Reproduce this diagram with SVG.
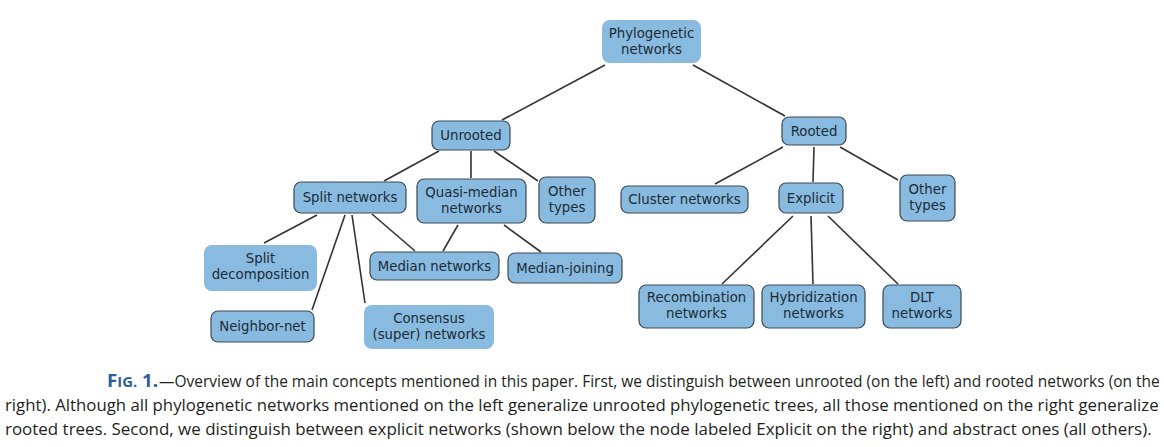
<svg xmlns="http://www.w3.org/2000/svg" width="1164" height="447" viewBox="0 0 1164 447">
<style>
.n{fill:#88bbdf;stroke:#3b4a55;stroke-width:1.2}
.nb{fill:#88bbdf;stroke:none}
.t{font-family:"DejaVu Sans",sans-serif;font-size:13.3px;fill:#1d2b36;text-anchor:middle}
.e{stroke:#333;stroke-width:1.6;fill:none}
.cap{font-family:"Open Sans","Liberation Sans",sans-serif;font-size:17px;fill:#231f20}
.fig{font-family:"Open Sans","Liberation Sans",sans-serif;font-weight:bold;fill:#2d5f9a}
</style>
<rect width="1164" height="447" fill="#fff"/>
<g id="connectors">
<line class="e" x1="605" y1="65" x2="502" y2="120"/>
<line class="e" x1="693" y1="65" x2="785" y2="116"/>
<line class="e" x1="439" y1="151" x2="384" y2="181"/>
<line class="e" x1="471" y1="151" x2="471" y2="178"/>
<line class="e" x1="494" y1="151" x2="538" y2="181"/>
<line class="e" x1="783" y1="147" x2="715" y2="184"/>
<line class="e" x1="814" y1="147" x2="813" y2="182"/>
<line class="e" x1="840" y1="147" x2="898" y2="180"/>
<line class="e" x1="317" y1="215" x2="264" y2="243"/>
<line class="e" x1="345" y1="215" x2="312" y2="310"/>
<line class="e" x1="352" y1="215" x2="365" y2="303"/>
<line class="e" x1="372" y1="214" x2="415" y2="251"/>
<line class="e" x1="458" y1="225" x2="443" y2="251"/>
<line class="e" x1="504" y1="225" x2="541" y2="252"/>
<line class="e" x1="793" y1="216" x2="722" y2="284"/>
<line class="e" x1="811" y1="216" x2="813" y2="284"/>
<line class="e" x1="828" y1="216" x2="898" y2="284"/>
</g>
<g id="phylo"><rect class="nb" x="602" y="20" width="99" height="43" rx="8"/><text class="t" x="651.5" y="38">Phylogenetic</text><text class="t" x="651.5" y="54">networks</text></g>
<g id="unrooted"><rect class="n" x="432" y="121" width="78" height="29" rx="7"/><text class="t" x="471" y="140">Unrooted</text></g>
<g id="rooted"><rect class="n" x="782" y="117" width="64" height="28" rx="7"/><text class="t" x="814" y="136">Rooted</text></g>
<g id="split"><rect class="n" x="294" y="182" width="112" height="31" rx="7"/><text class="t" x="350" y="202">Split networks</text></g>
<g id="quasi"><rect class="n" x="417" y="179" width="109" height="44" rx="7"/><text class="t" x="471.5" y="197">Quasi-median</text><text class="t" x="471.5" y="213">networks</text></g>
<g id="other-left"><rect class="n" x="539" y="177" width="56" height="46" rx="7"/><text class="t" x="567" y="196">Other</text><text class="t" x="567" y="212">types</text></g>
<g id="cluster"><rect class="n" x="621" y="186" width="127" height="27" rx="7"/><text class="t" x="684.5" y="204">Cluster networks</text></g>
<g id="explicit"><rect class="n" x="779" y="183" width="64" height="30" rx="7"/><text class="t" x="811" y="202.5">Explicit</text></g>
<g id="other-right"><rect class="n" x="900" y="175" width="55" height="46" rx="7"/><text class="t" x="927.5" y="194">Other</text><text class="t" x="927.5" y="210">types</text></g>
<g id="splitdecomp"><rect class="nb" x="204" y="245" width="113" height="46" rx="8"/><text class="t" x="260.5" y="263">Split</text><text class="t" x="260.5" y="279">decomposition</text></g>
<g id="median"><rect class="n" x="370" y="252" width="129" height="28" rx="7"/><text class="t" x="434.5" y="270.5">Median networks</text></g>
<g id="median-joining"><rect class="n" x="508" y="253" width="114" height="30" rx="7"/><text class="t" x="565" y="272.5">Median-joining</text></g>
<g id="neighbor"><rect class="n" x="211" y="311" width="103" height="31" rx="7"/><text class="t" x="262.5" y="331">Neighbor-net</text></g>
<g id="consensus"><rect class="nb" x="364" y="305" width="130" height="44" rx="8"/><text class="t" x="429" y="323">Consensus</text><text class="t" x="429" y="339">(super) networks</text></g>
<g id="recomb"><rect class="n" x="639" y="285" width="115" height="43" rx="7"/><text class="t" x="696.5" y="302">Recombination</text><text class="t" x="696.5" y="318">networks</text></g>
<g id="hybrid"><rect class="n" x="762" y="285" width="103" height="43" rx="7"/><text class="t" x="813.5" y="302">Hybridization</text><text class="t" x="813.5" y="318">networks</text></g>
<g id="dlt"><rect class="n" x="883" y="285" width="78" height="43" rx="7"/><text class="t" x="922" y="302">DLT</text><text class="t" x="922" y="318">networks</text></g>
<g id="caption">
<text class="fig" x="107" y="387" textLength="51" lengthAdjust="spacingAndGlyphs"><tspan font-size="17">F</tspan><tspan font-size="13.5">IG.</tspan><tspan font-size="17"> 1.</tspan></text>
<text class="cap" transform="translate(159,387) scale(0.78,1)" x="0" y="0" textLength="1283" lengthAdjust="spacingAndGlyphs">—Overview of the main concepts mentioned in this paper. First, we distinguish between unrooted (on the left) and rooted networks (on the</text>
<text class="cap" transform="translate(5,411) scale(0.78,1)" x="0" y="0" textLength="1479" lengthAdjust="spacingAndGlyphs">right). Although all phylogenetic networks mentioned on the left generalize unrooted phylogenetic trees, all those mentioned on the right generalize</text>
<text class="cap" transform="translate(5,435) scale(0.78,1)" x="0" y="0" textLength="1470" lengthAdjust="spacingAndGlyphs">rooted trees. Second, we distinguish between explicit networks (shown below the node labeled Explicit on the right) and abstract ones (all others).</text>
</g>
</svg>
